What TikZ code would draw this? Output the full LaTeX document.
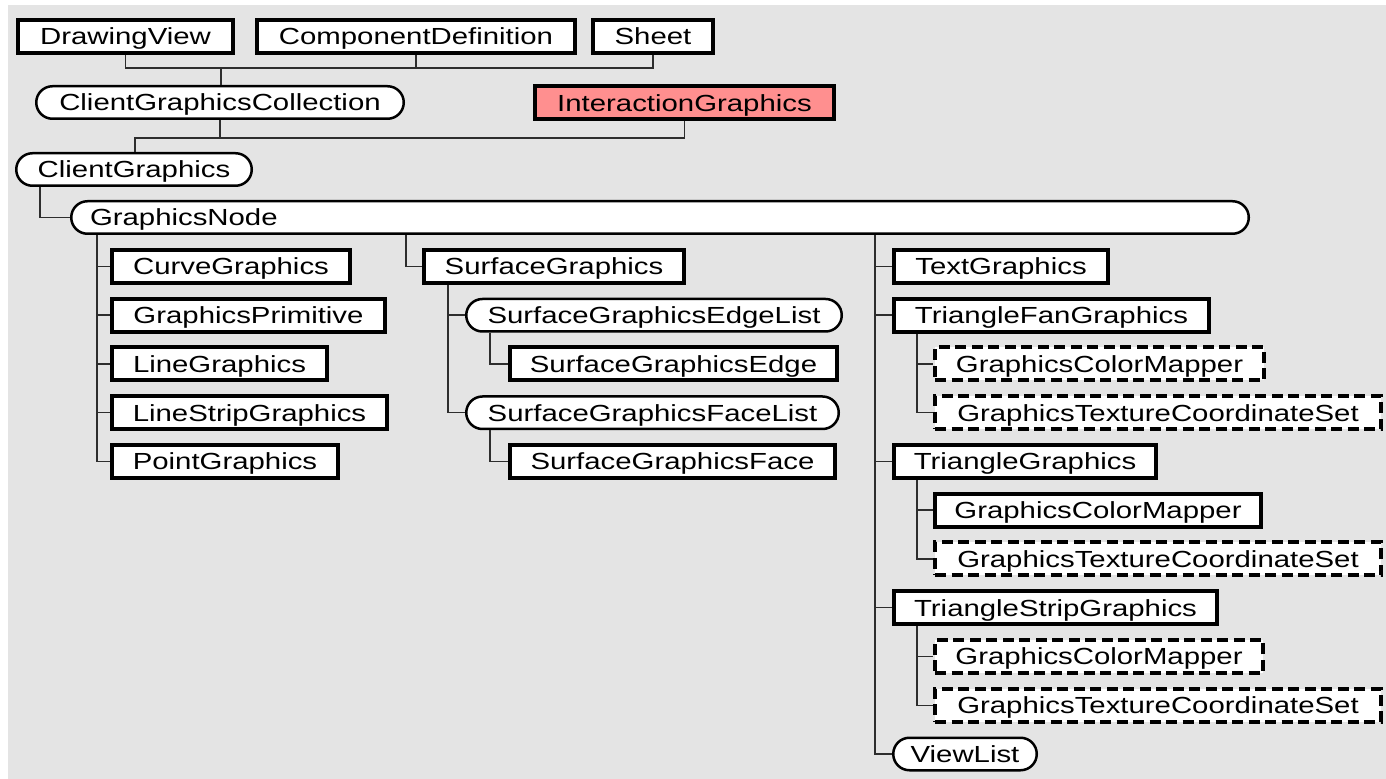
\documentclass[tikz,border=0pt]{standalone}
\usepackage{fontspec}
\usepackage{xcolor}
\usepackage{tikz}
\usetikzlibrary{calc}
\newfontfamily\diagfont{Liberation Sans}[FakeStretch=1.26]
\definecolor{canvasgray}{RGB}{228,228,228}
\definecolor{interactfill}{RGB}{255,143,143}
\definecolor{linkgray}{RGB}{45,45,45}
\tikzset{
  objbox/.style={draw=black,line width=2pt,fill=white,rectangle,anchor=west,
    minimum height=16.5pt,inner xsep=0pt,text height=8.4pt,text depth=0pt,
    font=\diagfont\fontsize{11.65}{14}\selectfont},
  optbox/.style={objbox,dash pattern=on 5.5pt off 2.75pt},
  collbox/.style={objbox,line width=1.25pt,rounded corners=8.1pt,minimum height=16.25pt},
  wd/.style={minimum width=#1*0.5pt},
  linkline/.style={draw=linkgray,line width=0.75pt},
}

\begin{document}
\begin{tikzpicture}[x=0.5pt,y=-0.5pt]
  \useasboundingbox (0,0) rectangle (1386,779);
  \fill[white] (0,0) rectangle (1386,779);
  \fill[canvasgray] (8,5) rectangle (1386,779);
  % top of the tree
  \node[objbox,wd=215] (dview) at (16,36.5) {DrawingView};
  \node[objbox,wd=318] (compdef) at (255,36.5) {ComponentDefinition};
  \node[objbox,wd=120] (sheet) at (591,36.5) {Sheet};
  \node[collbox,wd=367.5] (cgc) at (35,102.5) {ClientGraphicsCollection};
  \node[objbox,wd=299,fill=interactfill] (igfx) at (533,103) {InteractionGraphics};
  \node[collbox,wd=235.5] (cg) at (15,169.5) {ClientGraphics};
  \node[collbox,wd=1177.5,text width=570pt,align=left,inner xsep=9pt] (gn) at (70,217.5) {GraphicsNode};
  % first column
  \node[objbox,wd=238] (curve) at (110,266.5) {CurveGraphics};
  \node[objbox,wd=273] (prim) at (110,315.25) {GraphicsPrimitive};
  \node[objbox,wd=215] (line) at (110,364) {LineGraphics};
  \node[objbox,wd=275] (lstrip) at (110,412.75) {LineStripGraphics};
  \node[objbox,wd=226] (point) at (110,461.5) {PointGraphics};
  % second column
  \node[objbox,wd=260] (sg) at (422,266.5) {SurfaceGraphics};
  \node[collbox,wd=375.5] (sedgelist) at (465,315.25) {SurfaceGraphicsEdgeList};
  \node[objbox,wd=327] (sedge) at (508,364) {SurfaceGraphicsEdge};
  \node[collbox,wd=372.5] (sfacelist) at (465,412.75) {SurfaceGraphicsFaceList};
  \node[objbox,wd=325] (sface) at (508,461.5) {SurfaceGraphicsFace};
  % third column
  \node[objbox,wd=214] (txt) at (892,266.5) {TextGraphics};
  \node[objbox,wd=315] (fan) at (892,315.25) {TriangleFanGraphics};
  \node[optbox,wd=329] (gcmA) at (933,364) {GraphicsColorMapper};
  \node[optbox,wd=446] (gtcsA) at (933,412.75) {GraphicsTextureCoordinateSet};
  \node[objbox,wd=262] (tri) at (892,461.5) {TriangleGraphics};
  \node[objbox,wd=326] (gcmB) at (933,510.25) {GraphicsColorMapper};
  \node[optbox,wd=446] (gtcsB) at (933,559) {GraphicsTextureCoordinateSet};
  \node[objbox,wd=323] (strip) at (892,607.75) {TriangleStripGraphics};
  \node[optbox,wd=328] (gcmC) at (933,656.5) {GraphicsColorMapper};
  \node[optbox,wd=446] (gtcsC) at (933,705.25) {GraphicsTextureCoordinateSet};
  \node[collbox,wd=143.5] (vlist) at (892,754) {ViewList};
  % links
  \coordinate (topbus) at (221,68);
  \coordinate (midbus) at (135,138);
  \foreach \top in {dview,compdef,sheet} \draw[linkline] (\top.south) |- (topbus);
  \draw[linkline] (topbus) -- (topbus |- cgc.north);
  \draw[linkline] (igfx.south) |- (midbus) -- (midbus |- cg.north);
  \draw[linkline] (cgc.south) -- (cgc.south |- midbus);
  \draw[linkline] ($(cg.south west)+(25,0)$) |- (gn.west);
  \foreach \kid in {curve,prim,line,lstrip,point}
    \draw[linkline] ($(gn.south west)+(27,0)$) |- (\kid.west);
  \draw[linkline] ($(gn.south west)+(336,0)$) |- (sg.west);
  \foreach \kid in {txt,fan,tri,strip,vlist}
    \draw[linkline] ($(gn.south west)+(805,0)$) |- (\kid.west);
  \foreach \kid in {sedgelist,sfacelist}
    \draw[linkline] ($(sg.south west)+(26,0)$) |- (\kid.west);
  \draw[linkline] ($(sedgelist.south west)+(25,0)$) |- (sedge.west);
  \draw[linkline] ($(sfacelist.south west)+(25,0)$) |- (sface.west);
  \foreach \dad/\kidA/\kidB in {fan/gcmA/gtcsA,tri/gcmB/gtcsB,strip/gcmC/gtcsC}{
    \draw[linkline] ($(\dad.south west)+(25,0)$) |- (\kidA.west);
    \draw[linkline] ($(\dad.south west)+(25,0)$) |- (\kidB.west);
  }
\end{tikzpicture}
\end{document}
